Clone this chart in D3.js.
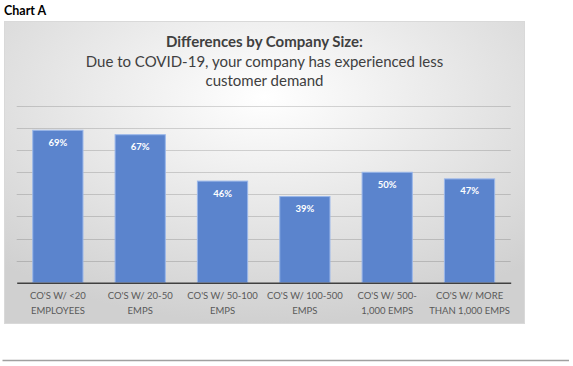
<!DOCTYPE html>
<html>
<head>
<meta charset="utf-8">
<script src="https://cdn.jsdelivr.net/npm/d3@7"></script>
<style>
  body { margin: 0; background: #ffffff; }
  svg { display: block; }
</style>
</head>
<body>
<div id="chart"></div>
<script>
// data
var categories = [
  ["CO'S W/ <20", "EMPLOYEES"],
  ["CO'S W/ 20-50", "EMPS"],
  ["CO'S W/ 50-100", "EMPS"],
  ["CO'S W/ 100-500", "EMPS"],
  ["CO'S W/ 500-", "1,000 EMPS"],
  ["CO'S W/ MORE", "THAN 1,000 EMPS"]
];
var values = [0.69, 0.67, 0.46, 0.39, 0.50, 0.47];
var gridTicks = [0, 0.1, 0.2, 0.3, 0.4, 0.5, 0.6, 0.7, 0.8];
var titleLines = [
  "Differences by Company Size:",
  "Due to COVID-19, your company has experienced less",
  "customer demand"
];

var W = 573, H = 366;
var font = "Lato, 'Open Sans', sans-serif";

var svg = d3.select("#chart").append("svg")
    .attr("width", W)
    .attr("height", H);

// panel background, light in the middle going grey at the edges
var defs = svg.append("defs");
var grad = defs.append("radialGradient")
    .attr("id", "panelGrad")
    .attr("cx", "50%").attr("cy", "25%").attr("r", "75%");
grad.append("stop").attr("offset", "0%").attr("stop-color", "#ffffff");
grad.append("stop").attr("offset", "100%").attr("stop-color", "#d0d0d0");

svg.append("text")
    .attr("x", 4).attr("y", 15)
    .attr("font-family", font)
    .attr("font-weight", "bold")
    .attr("font-size", 12.5)
    .attr("fill", "#000")
    .text("Chart A");

var panel = { x: 4.5, y: 21.5, w: 520, h: 302 };
svg.append("rect")
    .attr("x", panel.x).attr("y", panel.y)
    .attr("width", panel.w).attr("height", panel.h)
    .attr("fill", "url(#panelGrad)")
    .attr("stroke", "#d9d9d9");

// title
var titleY = [46.5, 66.5, 86];
svg.selectAll("text.title")
    .data(titleLines)
  .enter().append("text")
    .attr("class", "title")
    .attr("x", panel.x + panel.w / 2)
    .attr("y", function(d, i) { return titleY[i]; })
    .attr("text-anchor", "middle")
    .attr("font-family", font)
    .attr("font-weight", function(d, i) { return i === 0 ? "bold" : "normal"; })
    .attr("font-size", 15)
    .attr("fill", "#404040")
    .text(function(d) { return d; });

var margin = { left: 16.7, right: 62.3, top: 106, bottom: 83.3 };

var x = d3.scaleBand()
    .domain(d3.range(values.length))
    .range([margin.left, W - margin.right])
    .paddingInner(0.39)
    .paddingOuter(0.195);

var y = d3.scaleLinear()
    .domain([0, 0.8])
    .range([H - margin.bottom, margin.top]);

// gridlines
svg.selectAll("line.grid")
    .data(gridTicks.slice(1))
  .enter().append("line")
    .attr("class", "grid")
    .attr("x1", margin.left).attr("x2", W - margin.right)
    .attr("y1", function(d) { return Math.round(y(d)) + 0.5; })
    .attr("y2", function(d) { return Math.round(y(d)) + 0.5; })
    .attr("stroke", "#000")
    .attr("stroke-opacity", 0.15)
    .attr("stroke-width", 1);

// bars
svg.selectAll("rect.bar")
    .data(values)
  .enter().append("rect")
    .attr("class", "bar")
    .attr("x", function(d, i) { return x(i); })
    .attr("y", function(d) { return y(d); })
    .attr("width", x.bandwidth())
    .attr("height", function(d) { return y(0) - y(d); })
    .attr("fill", "#5b84cd")
    .attr("stroke", "#9ab7ea")
    .attr("stroke-width", 1);

// value labels
svg.selectAll("text.val")
    .data(values)
  .enter().append("text")
    .attr("class", "val")
    .attr("x", function(d, i) { return x(i) + x.bandwidth() / 2; })
    .attr("y", function(d) { return y(d) + 15.5; })
    .attr("text-anchor", "middle")
    .attr("font-family", font)
    .attr("font-weight", "bold")
    .attr("font-size", 9.5)
    .attr("fill", "#ffffff")
    .text(function(d) { return d3.format(".0%")(d); });

// x axis
var xAxis = svg.append("g")
    .attr("transform", "translate(0," + y(0) + ")")
    .call(d3.axisBottom(x).tickSize(0).tickFormat(""));
xAxis.select(".domain")
    .attr("stroke", "#404040")
    .attr("stroke-width", 1.6);

xAxis.selectAll(".tick").each(function(d, i) {
  var t = d3.select(this).append("text")
      .attr("fill", "#595959")
      .attr("font-family", font)
      .attr("font-size", 9.5)
      .attr("text-anchor", "middle");
  categories[i].forEach(function(line, k) {
    t.append("tspan")
        .attr("x", 0)
        .attr("y", 16.5 + k * 14.5)
        .text(line);
  });
});

// rule at the bottom of the page
svg.append("line")
    .attr("x1", 2.5).attr("x2", 569)
    .attr("y1", 360.5).attr("y2", 360.5)
    .attr("stroke", "#a0a0a0")
    .attr("stroke-width", 1.5);
</script>
</body>
</html>
